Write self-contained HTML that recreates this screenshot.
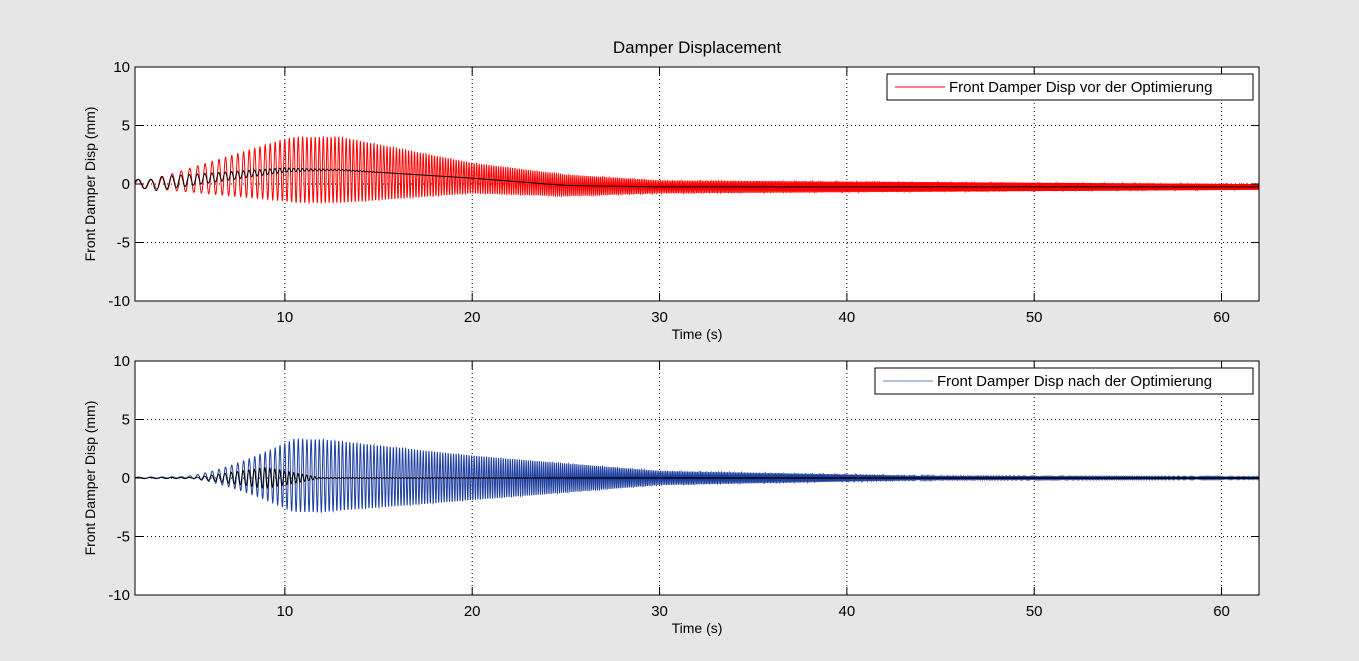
<!DOCTYPE html>
<html><head><meta charset="utf-8"><style>
body{margin:0;background:#e6e6e6;}
svg{display:block;font-family:"Liberation Sans",sans-serif;}
</style></head><body>
<svg id="s" width="1359" height="661" xmlns="http://www.w3.org/2000/svg">
<rect width="1359" height="661" fill="#e6e6e6"/>
<text x="697" y="53" font-size="17" text-anchor="middle">Damper Displacement</text>
<g id="p1"></g><g id="p2"></g>
</svg>
<script>
const NS="http://www.w3.org/2000/svg";
function el(p,t,a,txt){const e=document.createElementNS(NS,t);for(const k in a)e.setAttribute(k,a[k]);if(txt!==undefined)e.textContent=txt;p.appendChild(e);return e;}
const L=135,R=1259,W=R-L;
function X(t){return L+(t-2)/60*W;}
function phase(t){const u=t-2;return 2*Math.PI*(1.3*u+0.17*u*u);}
function drawAxes(g,top,bot){
  const Y=v=>top+(10-v)/20*(bot-top);
  el(g,"rect",{x:L,y:top,width:W,height:bot-top,fill:"#fff"});
  for(const v of [5,0,-5]) el(g,"line",{x1:L,x2:R,y1:Y(v),y2:Y(v),stroke:"#000","stroke-width":1,"stroke-dasharray":"1,3"});
  for(const t of [10,20,30,40,50,60]) el(g,"line",{x1:X(t),x2:X(t),y1:top,y2:bot,stroke:"#000","stroke-width":1,"stroke-dasharray":"1,3"});
  return Y;
}
function frame(g,top,bot,legend,lcol,lx){
  const Y=v=>top+(10-v)/20*(bot-top);
  el(g,"rect",{x:L,y:top,width:W,height:bot-top,fill:"none",stroke:"#000","stroke-width":1});
  for(const v of [10,5,0,-5,-10]){
    el(g,"line",{x1:L,x2:L+8,y1:Y(v),y2:Y(v),stroke:"#000"});
    el(g,"line",{x1:R-8,x2:R,y1:Y(v),y2:Y(v),stroke:"#000"});
    el(g,"text",{x:L-5,y:Y(v)+5,"font-size":15,"text-anchor":"end"},String(v));
  }
  for(const t of [10,20,30,40,50,60]){
    el(g,"line",{x1:X(t),x2:X(t),y1:bot,y2:bot-8,stroke:"#000"});
    el(g,"line",{x1:X(t),x2:X(t),y1:top,y2:top+8,stroke:"#000"});
    el(g,"text",{x:X(t),y:bot+21,"font-size":15,"text-anchor":"middle"},String(t));
  }
  el(g,"text",{x:697,y:bot+38,"font-size":14,"text-anchor":"middle"},"Time (s)");
  const cy=(top+bot)/2;
  el(g,"text",{x:0,y:0,"font-size":14,"text-anchor":"middle",transform:`translate(95,${cy}) rotate(-90)`},"Front Damper Disp (mm)");
  el(g,"rect",{x:lx,y:top+7,width:1253-lx,height:26,fill:"#fff",stroke:"#000"});
  el(g,"line",{x1:lx+8,x2:lx+58,y1:top+20,y2:top+20,stroke:lcol});
  el(g,"text",{x:lx+62,y:top+25,"font-size":15},legend);
}
function path(g,f,col,w){
  let d="";for(let t=2;t<=62;t+=0.008){d+=(d?"L":"M")+X(t).toFixed(2)+","+f(t).toFixed(2);}
  el(g,"path",{d,fill:"none",stroke:col,"stroke-width":w});
}
{const g=document.getElementById("p1"),top=67,bot=301;
 const Y=drawAxes(g,top,bot);
 const off=t=>{let o;if(t<10)o=1.2*Math.max(0,(t-3)/7);else if(t<13)o=1.2;else if(t<25)o=1.2*(25-t)/12;else o=0;return o-(t>20?0.25*Math.min(1,(t-20)/10):0);};
 const amp=t=>{if(t<3)return 0.4;if(t<10.5)return 0.4+2.4*(t-3)/7.5;if(t<13)return 2.8;if(t<20)return 2.8-1.5*(t-13)/7;if(t<30)return 1.3-0.75*(t-20)/10;return 0.55-0.3*(t-30)/32;};
 path(g,t=>Y(off(t)+amp(t)*Math.sin(phase(t))),"#ff0000",1);
 const bamp=t=>t<3?0.4:(t<11?0.6*(1-(t-3)/10):Math.max(0,0.1*(1-(t-11)/5)));
 path(g,t=>Y(off(t)+bamp(t)*Math.sin(phase(t)+0.3)),"#000",1);
 frame(g,top,bot,"Front Damper Disp vor der Optimierung","#ff0000",887);}
{const g=document.getElementById("p2"),top=361,bot=595;
 const Y=drawAxes(g,top,bot);
 const amp=t=>{if(t<4.5)return 0.05;if(t<10.5)return 0.05+3.1*Math.pow((t-4.5)/6,1.5);if(t<12)return 3.1;if(t<20)return 3.1-1.2*(t-12)/8;if(t<30)return 1.9-1.3*(t-20)/10;if(t<45)return 0.6-0.45*(t-30)/15;return 0.15-0.07*(t-45)/17;};
 path(g,t=>Y(0.2*Math.exp(-Math.pow((t-11)/6,2))+amp(t)*Math.sin(phase(t))),"#2040a0",1);
 const bamp=t=>t<5?0.05:(t<9?0.9*(t-5)/4:Math.max(0.03,0.9*(1-(t-9)/3)));
 path(g,t=>Y(bamp(t)*Math.sin(phase(t)+0.5)),"#000",1);
 frame(g,top,bot,"Front Damper Disp nach der Optimierung","#7080d0",875);}
</script>
</body></html>
